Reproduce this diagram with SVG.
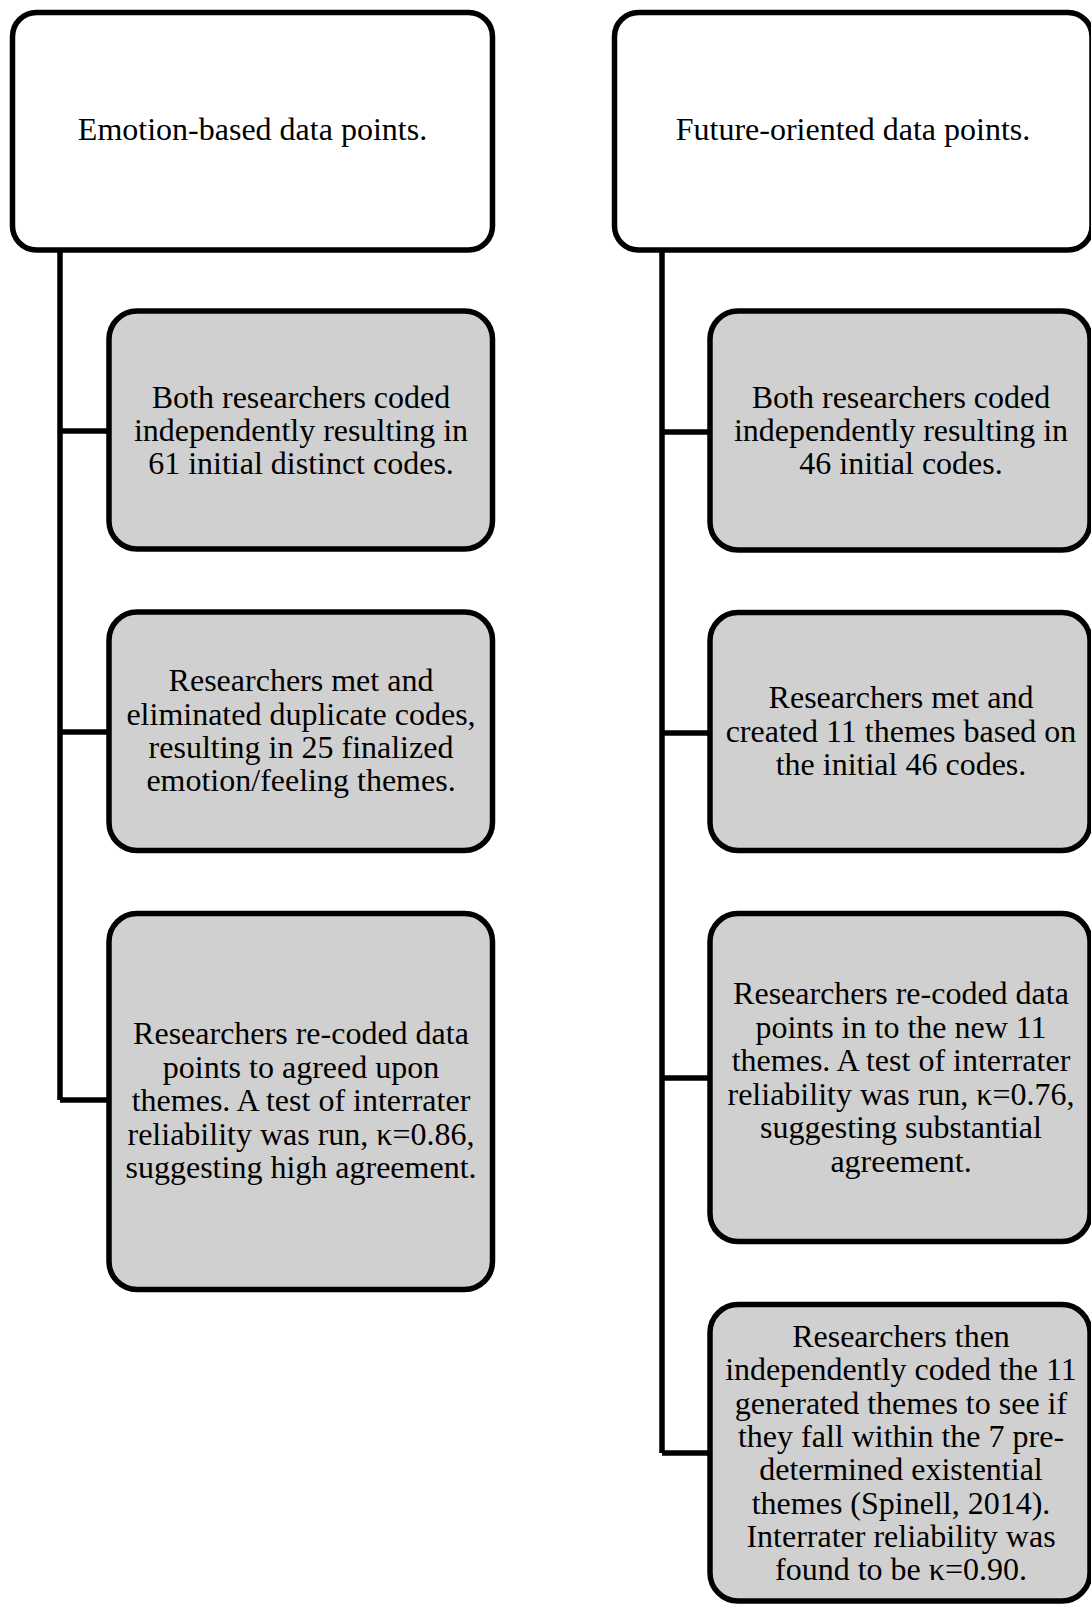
<svg xmlns="http://www.w3.org/2000/svg" width="1091" height="1604" viewBox="0 0 1091 1604">
<style>
.parent{fill:#ffffff;stroke:#000000;stroke-width:5.5}
.child{fill:#d0d0d0;stroke:#000000;stroke-width:5.5}
.conn{fill:none;stroke:#000000;stroke-width:5.5;stroke-linecap:butt;stroke-linejoin:miter}
text{font-family:"Liberation Serif","Times New Roman",serif;font-size:32px;fill:#000000;text-anchor:middle}
</style>
<rect width="1091" height="1604" fill="#ffffff"/>
<g id="connectors">
<path class="conn" d="M60 250 V1100 M60 431 H109 M60 732 H109 M60 1100 H109"/>
<path class="conn" d="M662 250 V1453 M662 432 H710 M662 733 H710 M662 1078 H710 M662 1453 H710"/>
</g>
<g id="emotion">
<rect class="parent" x="12.5" y="12.5" width="480" height="237.5" rx="24"/>
<text x="252.5" y="140">Emotion-based data points.</text>
</g>
<g id="e1">
<rect class="child" x="109" y="311" width="383.5" height="238" rx="28"/>
<text x="301"><tspan x="301" y="407.5">Both researchers coded</tspan><tspan x="301" y="440.5">independently resulting in</tspan><tspan x="301" y="473.5">61 initial distinct codes.</tspan></text>
</g>
<g id="e2">
<rect class="child" x="109" y="612" width="383.5" height="238.5" rx="28"/>
<text x="301"><tspan x="301" y="691">Researchers met and</tspan><tspan x="301" y="724.5">eliminated duplicate codes,</tspan><tspan x="301" y="758">resulting in 25 finalized</tspan><tspan x="301" y="791">emotion/feeling themes.</tspan></text>
</g>
<g id="e3">
<rect class="child" x="109" y="913.5" width="383.5" height="376" rx="28"/>
<text x="301"><tspan x="301" y="1044">Researchers re-coded data</tspan><tspan x="301" y="1077.5">points to agreed upon</tspan><tspan x="301" y="1111">themes. A test of interrater</tspan><tspan x="301" y="1144.5">reliability was run, κ=0.86,</tspan><tspan x="301" y="1178">suggesting high agreement.</tspan></text>
</g>
<g id="future">
<rect class="parent" x="614.5" y="12.5" width="477.5" height="237.5" rx="24"/>
<text x="853" y="140">Future-oriented data points.</text>
</g>
<g id="f1">
<rect class="child" x="710" y="311" width="380" height="239" rx="28"/>
<text x="901"><tspan x="901" y="407.5">Both researchers coded</tspan><tspan x="901" y="440.5">independently resulting in</tspan><tspan x="901" y="473.5">46 initial codes.</tspan></text>
</g>
<g id="f2">
<rect class="child" x="710" y="612.5" width="380" height="238" rx="28"/>
<text x="901"><tspan x="901" y="708">Researchers met and</tspan><tspan x="901" y="741.5">created 11 themes based on</tspan><tspan x="901" y="775">the initial 46 codes.</tspan></text>
</g>
<g id="f3">
<rect class="child" x="710" y="913.5" width="380" height="328" rx="28"/>
<text x="901"><tspan x="901" y="1004">Researchers re-coded data</tspan><tspan x="901" y="1037.5">points in to the new 11</tspan><tspan x="901" y="1071">themes. A test of interrater</tspan><tspan x="901" y="1104.5">reliability was run, κ=0.76,</tspan><tspan x="901" y="1138">suggesting substantial</tspan><tspan x="901" y="1171.5">agreement.</tspan></text>
</g>
<g id="f4">
<rect class="child" x="710" y="1304.5" width="380" height="296.5" rx="28"/>
<text x="901"><tspan x="901" y="1347">Researchers then</tspan><tspan x="901" y="1380.3">independently coded the 11</tspan><tspan x="901" y="1413.6">generated themes to see if</tspan><tspan x="901" y="1446.9">they fall within the 7 pre-</tspan><tspan x="901" y="1480.2">determined existential</tspan><tspan x="901" y="1513.5">themes (Spinell, 2014).</tspan><tspan x="901" y="1546.8">Interrater reliability was</tspan><tspan x="901" y="1580">found to be κ=0.90.</tspan></text>
</g>
</svg>
